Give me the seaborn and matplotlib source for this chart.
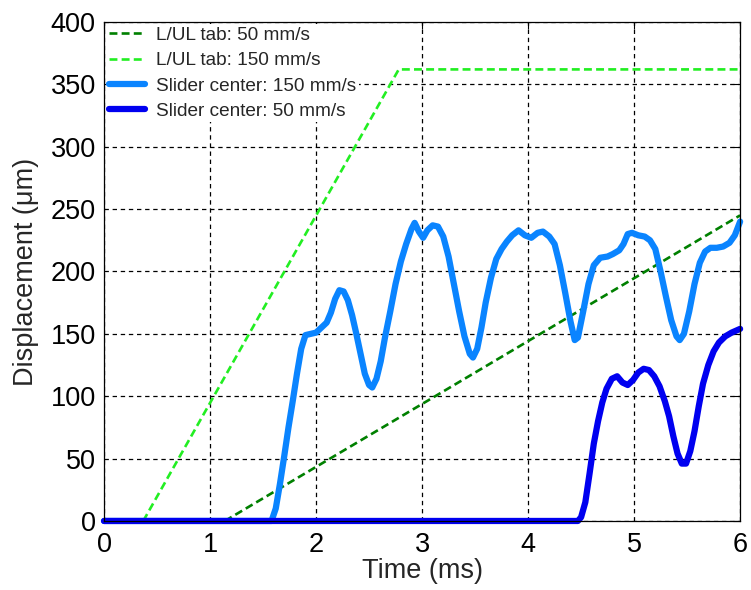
import numpy as np
import pandas as pd
import matplotlib
matplotlib.use("Agg")
import matplotlib.pyplot as plt
import seaborn as sns

# Loading/unloading tab motion (straight ramps)
tab50_t = [1.14, 6.00]
tab50_d = [0, 245]
tab150_t = [0.37, 2.78, 6.00]
tab150_d = [0, 362, 362]

# Slider centre displacement, 150 mm/s
slider150_t = [0.00, 1.58, 1.62, 1.66, 1.70, 1.74, 1.78, 1.82, 1.86, 1.90, 1.95,
               2.00, 2.05, 2.10, 2.14, 2.18, 2.22, 2.26, 2.30, 2.34, 2.38, 2.42,
               2.46, 2.50, 2.53, 2.57, 2.61, 2.65, 2.70, 2.75, 2.80, 2.85, 2.90,
               2.93, 2.97, 3.01, 3.05, 3.10, 3.15, 3.20, 3.25, 3.30, 3.35, 3.40,
               3.45, 3.48, 3.52, 3.56, 3.60, 3.65, 3.70, 3.75, 3.80, 3.85, 3.91,
               3.97, 4.03, 4.09, 4.14, 4.20, 4.25, 4.30, 4.35, 4.40, 4.44, 4.47,
               4.52, 4.57, 4.62, 4.68, 4.75, 4.80, 4.86, 4.90, 4.94, 4.98, 5.04,
               5.10, 5.15, 5.20, 5.25, 5.30, 5.35, 5.40, 5.43, 5.47, 5.52, 5.57,
               5.62, 5.67, 5.72, 5.78, 5.84, 5.90, 5.95, 6.00]
slider150_d = [0, 0, 10, 30, 52, 75, 96, 118, 138, 149, 150,
               151, 155, 159, 167, 178, 185, 184, 177, 165, 150, 134,
               118, 109, 107, 114, 128, 147, 168, 190, 208, 222, 234,
               239, 232, 227, 233, 237, 236, 228, 212, 190, 168, 148,
               134, 131, 138, 155, 175, 195, 210, 218, 224, 229, 233,
               229, 227, 231, 232, 228, 222, 205, 183, 160, 145, 147,
               168, 190, 205, 211, 212, 214, 217, 222, 230, 231, 229,
               228, 225, 218, 200, 180, 161, 148, 145, 150, 168, 190,
               207, 216, 219, 219, 220, 223, 229, 240]

# Slider centre displacement, 50 mm/s
slider50_t = [0.00, 4.47, 4.50, 4.54, 4.58, 4.62, 4.66, 4.70, 4.74, 4.79, 4.84,
              4.89, 4.94, 4.99, 5.04, 5.09, 5.14, 5.19, 5.24, 5.29, 5.33, 5.37,
              5.41, 5.45, 5.49, 5.53, 5.57, 5.61, 5.65, 5.70, 5.75, 5.80, 5.86,
              5.92, 6.00]
slider50_d = [0, 0, 3, 15, 38, 62, 80, 95, 106, 114, 116,
              111, 109, 113, 119, 122, 121, 116, 108, 96, 84, 68,
              54, 46, 46, 56, 72, 92, 110, 125, 136, 143, 148,
              151, 154]

x_ticks = [0, 1, 2, 3, 4, 5, 6]
y_ticks = [0, 50, 100, 150, 200, 250, 300, 350, 400]

sns.set_style("white")
plt.rcParams["font.family"] = ["Liberation Sans", "DejaVu Sans"]

fig = plt.figure(figsize=(7.51, 5.90), dpi=100)
ax = fig.add_axes([0.1385, 0.117, 0.847, 0.8457])

series = [
    ("L/UL tab: 50 mm/s", tab50_t, tab50_d, "#008000", (0, (3, 1.6)), 1.9, True),
    ("L/UL tab: 150 mm/s", tab150_t, tab150_d, "#22ee22", (0, (3, 1.6)), 1.9, True),
    ("Slider center: 150 mm/s", slider150_t, slider150_d, "#0a84ff", "-", 4.5, False),
    ("Slider center: 50 mm/s", slider50_t, slider50_d, "#0000f0", "-", 4.5, False),
]
for label, t, d, color, ls, lw, clip in series:
    df = pd.DataFrame({"t": t, "d": d})
    sns.lineplot(data=df, x="t", y="d", ax=ax, color=color, linewidth=lw,
                 label=label, sort=False, clip_on=clip)
    ax.lines[-1].set_linestyle(ls)

ax.set_xlim(0, 6)
ax.set_ylim(0, 400)
ax.set_xticks(x_ticks)
ax.set_yticks(y_ticks)
ax.set_xlabel("Time (ms)", fontsize=19.5, labelpad=0)
ax.set_ylabel("Displacement (μm)", fontsize=19.5, labelpad=8)
ax.tick_params(axis="both", direction="in", length=5, width=0.8, labelsize=19.5,
               pad=6, top=True, right=True, colors="black")
ax.tick_params(axis="x", pad=8)
ax.grid(True, color="black", linestyle=(0, (3.5, 3)), linewidth=0.9)
for sp in ax.spines.values():
    sp.set_color("black")
    sp.set_linewidth(0.9)

leg = ax.legend(loc="upper left", fontsize=13.7, frameon=True, fancybox=False,
                borderaxespad=0.12, handlelength=1.9, handletextpad=0.6,
                labelspacing=0.42, borderpad=0.12)
leg.get_frame().set_edgecolor("none")
leg.get_frame().set_facecolor("white")
leg.get_frame().set_alpha(1)

fig.savefig("out.png", dpi=100)
